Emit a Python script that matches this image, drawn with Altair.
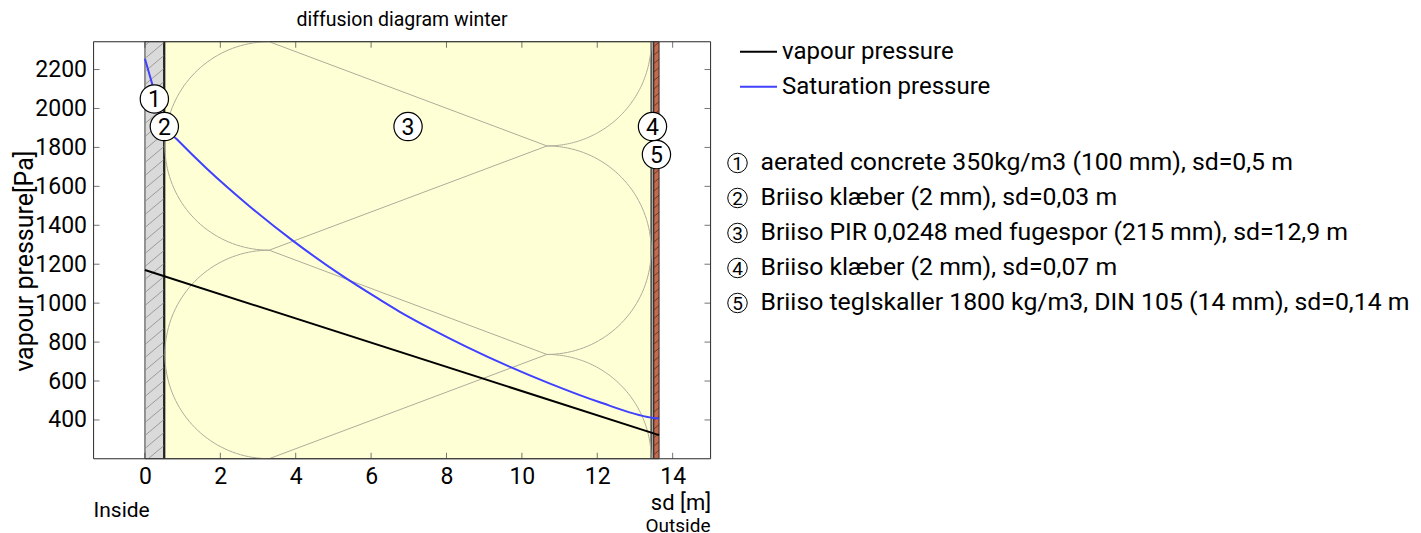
import altair as alt
import numpy as np
import pandas as pd

# ---------------- data ----------------
layer_numbers = ["1", "2", "3", "4", "5"]
layer_names = [
    "aerated concrete 350kg/m3 (100 mm), sd=0,5 m",
    "Briiso klæber (2 mm), sd=0,03 m",
    "Briiso PIR 0,0248 med fugespor (215 mm), sd=12,9 m",
    "Briiso klæber (2 mm), sd=0,07 m",
    "Briiso teglskaller 1800 kg/m3, DIN 105 (14 mm), sd=0,14 m",
]
layer_sd = [0.5, 0.03, 12.9, 0.07, 0.14]
layer_colors = ["#dadada", "#1e1e1e", "#ffffd6", "#a8a8a8", "#c46a4d"]
label_pa = [2049, 1907, 1907, 1907, 1763]

vapour_sd = [0.0, 13.64]
vapour_pa = [1170, 322]

sat_sd = [0.0, 0.18, 0.5, 0.53, 0.84, 1.63, 2.78, 3.93, 5.16, 6.18, 6.75,
          7.64, 8.52, 9.67, 10.73, 12.05, 13.43, 13.5, 13.64]
sat_pa = [2255, 2135, 1918, 1905, 1843, 1693, 1497, 1320, 1150, 1024, 957,
          863, 777, 674, 588, 492, 412, 410, 408]

series_names = ["vapour pressure", "Saturation pressure"]
series_colors = ["#000000", "#4040ff"]

x_ticks = [0, 2, 4, 6, 8, 10, 12, 14]
y_ticks = [400, 600, 800, 1000, 1200, 1400, 1600, 1800, 2000, 2200]
x_domain = [-1.364, 15.004]
y_domain = [201, 2343]

title_text = "diffusion diagram winter"
x_title = "sd [m]"
y_title = "vapour pressure[Pa]"
inside_text = "Inside"
outside_text = "Outside"

# ---------------- layout ----------------
W, H = 617, 417
FONT = "Roboto"
FS = 23
AX = "#3a3a3a"
PAT = "#aeac9a"

bounds = np.concatenate([[0.0], np.cumsum(layer_sd)])
kx = W / (x_domain[1] - x_domain[0])
ky = H / (y_domain[1] - y_domain[0])

xs = alt.Scale(domain=x_domain, nice=False, zero=False)
ys = alt.Scale(domain=y_domain, nice=False, zero=False)
xa = alt.Axis(values=x_ticks, ticks=False, domain=False, grid=False, format="d",
              labelFont=FONT, labelFontSize=FS, labelColor="#000", labelPadding=7,
              title=x_title, titleFont=FONT, titleFontSize=22, titleFontWeight="normal",
              titleColor="#000", titleX=W, titleY=44, titleAlign="right",
              titleAnchor="end", titleBaseline="middle")
ya = alt.Axis(values=y_ticks, ticks=False, domain=False, grid=False, format="d",
              labelFont=FONT, labelFontSize=FS, labelColor="#000", labelPadding=7,
              title=y_title, titleFont=FONT, titleFontSize=25, titleFontWeight="normal",
              titleColor="#000", titleX=-69, titleY=219, titleAngle=-90,
              titleAlign="center", titleBaseline="middle")


def X(f):
    return alt.X(f, type="quantitative", scale=xs, axis=xa)


def Y(f):
    return alt.Y(f, type="quantitative", scale=ys, axis=ya)


layers = pd.DataFrame({
    "x0": bounds[:-1], "x1": bounds[1:],
    "y0": y_domain[0], "y1": y_domain[1],
    "fill": layer_colors, "num": layer_numbers,
    "xc": (bounds[:-1] + bounds[1:]) / 2, "ly": label_pa,
})

# hatch segments (decoration) computed from layer extents
def hatch(x0, x1, spacing, angle):
    w = (x1 - x0) * kx
    s = np.tan(np.radians(angle))
    rows = []
    yb = -w * s
    while yb < H:
        xs_ = 0.0 if yb >= 0 else -yb / s
        xe_ = w if yb + s * w <= H else (H - yb) / s
        if xe_ > xs_:
            rows.append({
                "xa": x0 + xs_ / kx, "ya": y_domain[0] + (yb + s * xs_) / ky,
                "xb": x0 + xe_ / kx, "yb": y_domain[0] + (yb + s * xe_) / ky,
            })
        yb += spacing
    return pd.DataFrame(rows)

hatch1 = hatch(bounds[0], bounds[1], 13.0, 40)
hatch5 = hatch(bounds[4], bounds[5], 8.5, 40)

# insulation symbol in layer 3
rx = (H / 4) / kx
ry = (y_domain[1] - y_domain[0]) / 4
lx = bounds[2] + rx
rxc = bounds[3] - rx
ytop, ybot = y_domain[1], y_domain[0]
arc_rows = []
def arc(cx, cy, t0, t1, gid):
    for i, t in enumerate(np.linspace(np.radians(t0), np.radians(t1), 80)):
        arc_rows.append({"g": gid, "i": i, "x": cx + rx * np.cos(t), "y": cy + ry * np.sin(t)})
arc(lx, ytop - ry, 90, 270, "L1")
arc(lx, ytop - 3 * ry, 90, 270, "L2")
arc(rxc, ytop, -90, 0, "R0")
arc(rxc, ytop - 2 * ry, -90, 90, "R1")
arc(rxc, ybot, 0, 90, "R2")
zx = [lx, rxc, lx, rxc, lx]
zy = [ytop, ytop - ry, ytop - 2 * ry, ytop - 3 * ry, ybot]
for i, (a, b) in enumerate(zip(zx, zy)):
    arc_rows.append({"g": "Z", "i": i, "x": a, "y": b})
arcs = pd.DataFrame(arc_rows)

vapour = pd.DataFrame({"x": vapour_sd, "y": vapour_pa})
sat = pd.DataFrame({"x": sat_sd, "y": sat_pa})
xt = pd.DataFrame({"v": x_ticks})
yt = pd.DataFrame({"v": y_ticks})
frame = pd.DataFrame({"x0": [x_domain[0]], "x1": [x_domain[1]], "y0": [y_domain[0]], "y1": [y_domain[1]]})

# legend layout (pixels relative to plot)
leg_series = pd.DataFrame({
    "name": series_names, "c": series_colors,
    "lx": 646.5, "lx2": 683.5, "tx": 688.5,
    "py": [10.0, 45.0],
})
leg_layers = pd.DataFrame({
    "num": layer_numbers, "name": layer_names,
    "cx": 644.0, "tx": 667.0,
    "py": [121.3 + 35 * i for i in range(5)],
})

# ---------------- marks ----------------
rects = alt.Chart(layers).mark_rect(stroke="#111", strokeWidth=0.8).encode(
    x=X("x0"), x2="x1", y=Y("y0"), y2="y1",
    color=alt.Color("fill:N", scale=None))

h1 = alt.Chart(hatch1).mark_rule(color="#8a8a8a", strokeWidth=0.8).encode(
    x=X("xa"), y=Y("ya"), x2="xb", y2="yb")
h5 = alt.Chart(hatch5).mark_rule(color="#5a2e20", strokeWidth=0.8).encode(
    x=X("xa"), y=Y("ya"), x2="xb", y2="yb")

pattern = alt.Chart(arcs).mark_line(color=PAT, strokeWidth=1).encode(
    x=X("x"), y=Y("y"), detail="g:N", order="i:Q")

frame_mark = alt.Chart(frame).mark_rect(fillOpacity=0, stroke=AX, strokeWidth=1).encode(
    x=X("x0"), x2="x1", y=Y("y0"), y2="y1")

tb = alt.Chart(xt).mark_tick(orient="vertical", size=6, thickness=1, color=AX).encode(
    x=X("v"), y=alt.value(H - 3))
tt = alt.Chart(xt).mark_tick(orient="vertical", size=6, thickness=1, color=AX).encode(
    x=X("v"), y=alt.value(3))
tl = alt.Chart(yt).mark_tick(orient="horizontal", size=6, thickness=1, color=AX).encode(
    y=Y("v"), x=alt.value(3))
tr = alt.Chart(yt).mark_tick(orient="horizontal", size=6, thickness=1, color=AX).encode(
    y=Y("v"), x=alt.value(W - 3))

vline = alt.Chart(vapour).mark_line(color=series_colors[0], strokeWidth=2).encode(
    x=X("x"), y=Y("y"))
sline = alt.Chart(sat).mark_line(color=series_colors[1], strokeWidth=2, interpolate="monotone").encode(
    x=X("x"), y=Y("y"))

lab_c = alt.Chart(layers).mark_circle(size=800, color="white", stroke="black",
                                      strokeWidth=1.2, opacity=1).encode(
    x=X("xc"), y=Y("ly"))
lab_t = alt.Chart(layers).mark_text(font=FONT, fontSize=23, color="black",
                                    baseline="middle", align="center", dy=1).encode(
    x=X("xc"), y=Y("ly"), text="num:N")

title_m = alt.Chart(pd.DataFrame({"t": [title_text]})).mark_text(
    font=FONT, fontSize=19.5, color="black", baseline="middle", align="center").encode(
    x=alt.value(W / 2), y=alt.value(-22), text="t:N")
inside_m = alt.Chart(pd.DataFrame({"t": [inside_text]})).mark_text(
    font=FONT, fontSize=21, color="black", baseline="middle", align="left").encode(
    x=alt.value(0), y=alt.value(H + 52), text="t:N")
outside_m = alt.Chart(pd.DataFrame({"t": [outside_text]})).mark_text(
    font=FONT, fontSize=19, color="black", baseline="middle", align="right").encode(
    x=alt.value(W), y=alt.value(H + 67), text="t:N")

ls_rule = alt.Chart(leg_series).mark_rule(strokeWidth=2).encode(
    x=alt.X("lx:Q", scale=None, axis=None), x2="lx2:Q",
    y=alt.Y("py:Q", scale=None, axis=None),
    color=alt.Color("c:N", scale=None))
ls_text = alt.Chart(leg_series).mark_text(font=FONT, fontSize=24, color="black",
                                          baseline="middle", align="left").encode(
    x=alt.X("tx:Q", scale=None, axis=None), y=alt.Y("py:Q", scale=None, axis=None),
    text="name:N")
ll_c = alt.Chart(leg_layers).mark_circle(size=380, color="white", stroke="black",
                                         strokeWidth=1, opacity=1).encode(
    x=alt.X("cx:Q", scale=None, axis=None), y=alt.Y("py:Q", scale=None, axis=None))
ll_n = alt.Chart(leg_layers).mark_text(font=FONT, fontSize=19, color="black",
                                       baseline="middle", align="center", dy=1).encode(
    x=alt.X("cx:Q", scale=None, axis=None), y=alt.Y("py:Q", scale=None, axis=None),
    text="num:N")
ll_t = alt.Chart(leg_layers).mark_text(font=FONT, fontSize=24.8, color="black",
                                       baseline="middle", align="left").encode(
    x=alt.X("tx:Q", scale=None, axis=None), y=alt.Y("py:Q", scale=None, axis=None),
    text="name:N")

chart = alt.layer(
    rects, h1, h5, pattern, frame_mark, tb, tt, tl, tr, vline, sline,
    lab_c, lab_t, title_m, inside_m, outside_m, ls_rule, ls_text, ll_c, ll_n, ll_t,
).properties(
    width=W, height=H,
    autosize=alt.AutoSizeParams(type="none"),
    padding={"left": 85.5, "top": 33.7, "right": 700, "bottom": 78},
).configure_view(stroke=None).configure(font=FONT, background="white")

chart.save("out.html", embed_options={"renderer": "svg", "actions": False})
